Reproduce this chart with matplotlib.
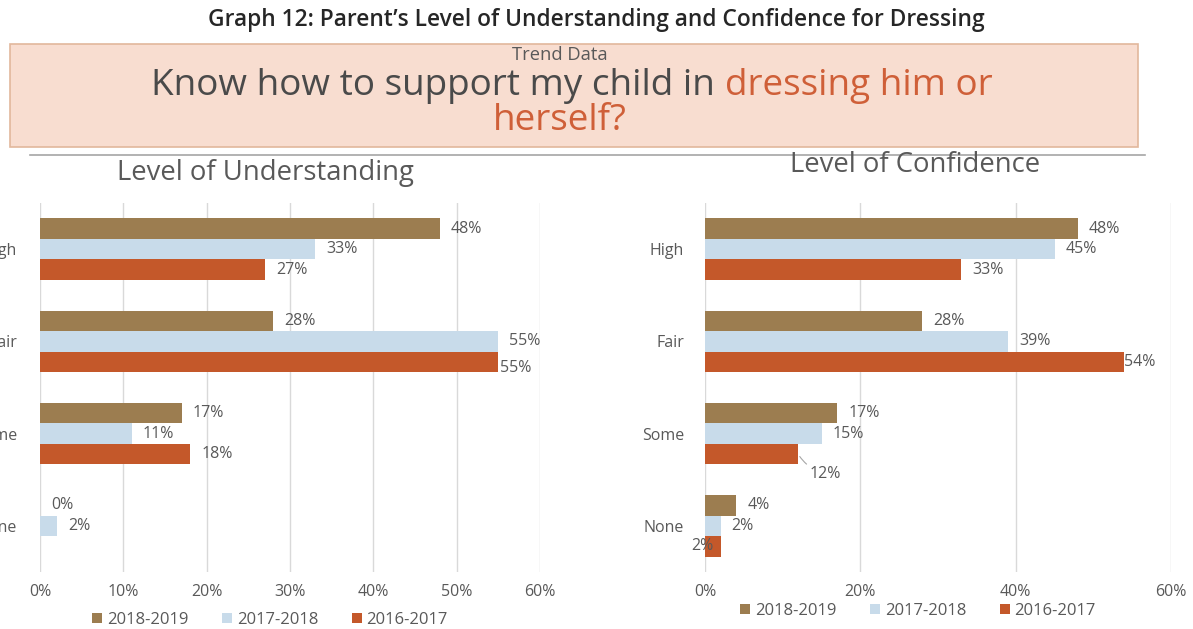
import numpy as np
import matplotlib
matplotlib.use("Agg")
import matplotlib.pyplot as plt
from matplotlib.patches import Rectangle, Patch
from matplotlib.lines import Line2D

plt.rcParams['font.family'] = ['Open Sans', 'DejaVu Sans']

# ---- data ----
levels = ["High", "Fair", "Some", "None"]
years = ["2018-2019", "2017-2018", "2016-2017"]

understanding_1819 = [48, 28, 17, 0]
understanding_1718 = [33, 55, 11, 2]
understanding_1617 = [27, 55, 18, np.nan]

confidence_1819 = [48, 28, 17, 4]
confidence_1718 = [45, 39, 15, 2]
confidence_1617 = [33, 54, 12, 2]

understanding_ticks = [0, 10, 20, 30, 40, 50, 60]
confidence_ticks = [0, 20, 40, 60]

colors = ["#9C7D50", "#C8DBEA", "#C4582A"]
text_gray = "#595959"
accent = "#CF5F38"

W, H = 1193, 629
fig = plt.figure(figsize=(W / 100, H / 100), dpi=100)
fig.patch.set_facecolor("white")
renderer = fig.canvas.get_renderer()


def fx(px):
    return px / W


def fy(py):
    return 1 - py / H


def fit_text(txt, width_px, cap_px):
    """Size a text between the size that fills width_px and the size whose
    capital letters are cap_px tall (geometric mean of both)."""
    w = txt.get_window_extent(renderer=renderer).width
    s_w = txt.get_fontsize() * width_px / w
    s_h = cap_px / 0.714 * 0.72
    txt.set_fontsize(np.sqrt(s_w * s_h))
    return txt


# ---- header ----
title = fig.text(fx(596), fy(20),
                 "Graph 12: Parent\u2019s Level of Understanding and Confidence for Dressing",
                 ha="center", va="center", fontsize=14, fontweight="semibold", color="#262626")
fit_text(title, 978, 13)

box = Rectangle((fx(10), fy(147)), fx(1138) - fx(10), fy(44) - fy(147),
                transform=fig.transFigure, facecolor="#F8DDD0", edgecolor="#E2B79C",
                linewidth=1.2, zorder=0)
fig.patches.append(box)

trend = fig.text(fx(560), fy(55), "Trend Data", ha="center", va="center",
                 fontsize=12, color=text_gray)
fit_text(trend, 113, 11)

line1_a = "Know how to support my child in "
line1_b = "dressing him or"
probe = fig.text(0, 0, line1_a + line1_b, fontsize=24)
fit_text(probe, 965, 23)
big = probe.get_fontsize()
probe.remove()

t1 = fig.text(fx(0), fy(86), line1_a, ha="left", va="center",
              fontsize=big, color="#4A4A4A")
t2 = fig.text(fx(0), fy(86), line1_b, ha="left", va="center",
              fontsize=big, color=accent)
w1 = t1.get_window_extent(renderer=renderer).width
w2 = t2.get_window_extent(renderer=renderer).width
x0 = 572 - (w1 + w2) / 2
t1.set_x(fx(x0))
t2.set_x(fx(x0 + w1))
fig.text(fx(560), fy(121), "herself?", ha="center", va="center",
         fontsize=big, color=accent)

fig.add_artist(Line2D([fx(30), fx(1145)], [fy(155), fy(155)],
                      transform=fig.transFigure, color="#A6A6A6", linewidth=1.2))

lu = fig.text(fx(265), fy(173), "Level of Understanding", ha="center", va="center",
              fontsize=16, color=text_gray)
fit_text(lu, 325, 18)
lc = fig.text(fx(915), fy(165), "Level of Confidence", ha="center", va="center",
              fontsize=16, color=text_gray)
fit_text(lc, 274, 18)

label_size = 11.5


def draw_panel(rect, series, ticks, xmax, label_pad, specials):
    ax = fig.add_axes(rect)
    y = np.arange(len(levels))
    h = 0.223
    offsets = [-h, 0, h]
    for vals, col, off, name in zip(series, colors, offsets, years):
        ax.barh(y + off, vals, height=h, color=col, label=name, zorder=2)
    for si, vals in enumerate(series):
        for ci, v in enumerate(vals):
            if np.isnan(v):
                continue
            dx, dy, ha, arrow = specials.get((si, ci), (8, 0, "left", False))
            kw = {}
            if arrow:
                kw["arrowprops"] = dict(arrowstyle="-", color="#A6A6A6", lw=0.8,
                                        connectionstyle="arc3,rad=-0.2",
                                        shrinkA=0, shrinkB=2)
            ax.annotate(f"{v:.0f}%", xy=(v, y[ci] + offsets[si]),
                        xytext=(dx, dy), textcoords="offset points",
                        ha=ha, va="center", fontsize=label_size, color=text_gray,
                        zorder=3, **kw)
    ax.set_xlim(0, xmax)
    ax.set_ylim(3.5, -0.5)
    ax.set_xticks(ticks)
    ax.set_xticklabels([f"{t}%" for t in ticks], fontsize=label_size, color=text_gray)
    ax.set_yticks(y)
    ax.set_yticklabels(levels, fontsize=label_size, color=text_gray)
    ax.tick_params(axis="y", length=0, pad=label_pad)
    ax.tick_params(axis="x", length=0, pad=9)
    ax.grid(axis="x", color="#D9D9D9", linewidth=1, zorder=0)
    for s in ax.spines.values():
        s.set_visible(False)
    ax.set_facecolor("none")
    return ax


top, bottom = 203, 572
ax1 = draw_panel([fx(40), fy(bottom), fx(540) - fx(40), fy(top) - fy(bottom)],
                 [understanding_1819, understanding_1718, understanding_1617],
                 understanding_ticks, 60, 16.5,
                 {(2, 1): (1, -4, "left", False)})

ax2 = draw_panel([fx(705), fy(bottom), fx(1171) - fx(705), fy(top) - fy(bottom)],
                 [confidence_1819, confidence_1718, confidence_1617],
                 confidence_ticks, 60, 15,
                 {(2, 1): (0, 0, "left", False),
                  (2, 2): (8, -14, "left", True),
                  (2, 3): (-5, 0, "right", False)})

handles = [Patch(facecolor=c, edgecolor="none") for c in colors]
for cx, cy in [(270, 620), (918, 611)]:
    fig.legend(handles, years, loc="center", bbox_to_anchor=(fx(cx), fy(cy)),
               ncol=3, frameon=False, fontsize=12, labelcolor=text_gray,
               handlelength=0.6, handleheight=0.6, handletextpad=0.3,
               columnspacing=2.0, borderpad=0)

fig.savefig("out.png", dpi=100, facecolor="white")
